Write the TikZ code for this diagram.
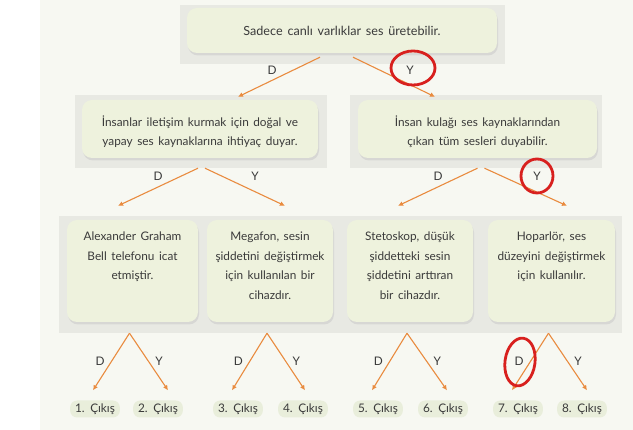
\documentclass[tikz,border=0pt]{standalone}
\usepackage{fontspec}
\setmainfont{Lato}[WordSpace=1.5]
\usetikzlibrary{arrows.meta, positioning, shadows, shapes.geometric}

\definecolor{pagecream}{HTML}{F7F8F2}
\definecolor{panelgray}{HTML}{E8E9E3}
\definecolor{cellgreen}{HTML}{EEF2DD}
\definecolor{pillgreen}{HTML}{E9EEDB}
\definecolor{arroworange}{HTML}{E98B3F}
\definecolor{ringred}{HTML}{D8201E}
\definecolor{inkgray}{HTML}{3A3A3A}

\begin{document}
\begin{tikzpicture}[
    x=1pt, y=-1pt,
    every node/.style={text=inkgray, font=\fontsize{11.8}{19.5}\selectfont},
    cell/.style={fill=cellgreen, rounded corners=10pt, inner sep=0pt,
        drop shadow={shadow xshift=1pt, shadow yshift=-2.5pt, fill=black!22}},
    celltext/.style={align=center, inner sep=0pt},
    pill/.style={fill=pillgreen, rounded corners=7pt, minimum height=17pt, inner xsep=5pt, inner ysep=0pt},
    choice/.style={inner sep=1pt},
    arrow/.style={-{Latex[length=5pt,width=5pt]}, arroworange, line width=1.1pt},
    redring/.style={draw=ringred, line width=2.8pt, ellipse, inner sep=0pt}
]
\useasboundingbox (0,0) rectangle (633,430);

% Background and panels
\fill[white] (0,0) rectangle (633,430);
\fill[pagecream] (40,0) rectangle (633,430);
\fill[panelgray] (180,5) rectangle (505,64);
\fill[panelgray] (75,95) rectangle (327,168);
\fill[panelgray] (350,95) rectangle (602,168);
\fill[panelgray] (59,216) rectangle (622,333);

% Nodes
\node (claim) [cell, minimum width=310pt, minimum height=45pt] at (342,30.5) {};
\node (needs) [cell, minimum width=236pt, minimum height=58pt] at (200,129) {};
\node (hears) [cell, minimum width=239pt, minimum height=58pt] at (477.5,129) {};

\node (bell) [cell, minimum width=131pt, minimum height=102pt] at (132.5,271) {};
\node (megafon) [cell, minimum width=126pt, minimum height=102pt] at (270,271) {};
\node (steto) [cell, minimum width=126pt, minimum height=102pt] at (410,271) {};
\node (hopar) [cell, minimum width=127pt, minimum height=102pt] at (551.5,271) {};

\node (claimt) [celltext, font=\fontsize{12.6}{19.5}\selectfont] at (claim.center) {Sadece canlı varlıklar ses üretebilir.};
\node (needst) [celltext] at ([yshift=-2.5pt]needs.center) {İnsanlar iletişim kurmak için doğal ve\\yapay ses kaynaklarına ihtiyaç duyar.};
\node (hearst) [celltext] at ([yshift=-2.5pt]hears.center) {İnsan kulağı ses kaynaklarından\\çıkan tüm sesleri duyabilir.};

\node (bellt) [celltext, below=12pt of bell.north] {Alexander Graham\\Bell telefonu icat\\etmiştir.};
\node (megafont) [celltext, below=12pt of megafon.north] {Megafon, sesin\\şiddetini değiştirmek\\için kullanılan bir\\cihazdır.};
\node (stetot) [celltext, below=12pt of steto.north] {Stetoskop, düşük\\şiddetteki sesin\\şiddetini arttıran\\bir cihazdır.};
\node (hopart) [celltext, below=12pt of hopar.north] {Hoparlör, ses\\düzeyini değiştirmek\\için kullanılır.};

\node (out1) [pill] at (95,409) {1. Çıkış};
\node (out2) [pill] at (158,409) {2. Çıkış};
\node (out3) [pill] at (238,409) {3. Çıkış};
\node (out4) [pill] at (303,409) {4. Çıkış};
\node (out5) [pill] at (378,409) {5. Çıkış};
\node (out6) [pill] at (443,409) {6. Çıkış};
\node (out7) [pill] at (518,409) {7. Çıkış};
\node (out8) [pill] at (582,409) {8. Çıkış};

% Labels
\node (dclaim) [choice] at (272,70) {D};
\node (yclaim) [choice] at (410,70) {Y};
\node (dneeds) [choice] at (158,176) {D};
\node (yneeds) [choice] at (255,176) {Y};
\node (dhears) [choice] at (438,176) {D};
\node (yhears) [choice] at (537,176) {Y};

% Arrows
\draw [arrow] ([xshift=-22pt,yshift=-4pt]claim.south) -- ([xshift=38pt,yshift=3pt]needs.north);
\draw [arrow] ([xshift=11pt,yshift=-4pt]claim.south) -- ([xshift=-42.5pt,yshift=3pt]hears.north);
\draw [arrow] ([xshift=-2pt,yshift=-10pt]needs.south) -- ([xshift=-14.5pt,yshift=14pt]bell.north);
\draw [arrow] ([xshift=5pt,yshift=-10pt]needs.south) -- ([xshift=15pt,yshift=14pt]megafon.north);
\draw [arrow] ([xshift=0pt,yshift=-10pt]hears.south) -- ([xshift=-12pt,yshift=14pt]steto.north);
\draw [arrow] ([xshift=7pt,yshift=-10pt]hears.south) -- ([xshift=15.5pt,yshift=14pt]hopar.north);

\foreach \cellname/\lo/\ls/\ro/\rs in {bell/out1/-2/out2/10, megafon/out3/-6/out4/2, steto/out5/-6/out6/4, hopar/out7/-6/out8/5} {
    \draw [arrow] ([xshift=-3pt,yshift=-11pt]\cellname.south) -- node (d\cellname) [choice, left=5pt] {D} ([xshift=\ls pt,yshift=10pt]\lo.north);
    \draw [arrow] ([xshift=-3pt,yshift=-11pt]\cellname.south) -- node (y\cellname) [choice, right=5pt] {Y} ([xshift=\rs pt,yshift=10pt]\ro.north);
}

% Red marks
\node (ringa) [redring, minimum width=44pt, minimum height=34pt] at (413,68) {};
\node (ringb) [redring, minimum width=32pt, minimum height=34pt] at (537,176) {};
\node (ringc) [redring, minimum width=30pt, minimum height=48pt, rotate=-8] at (520,362) {};

\end{tikzpicture}
\end{document}
